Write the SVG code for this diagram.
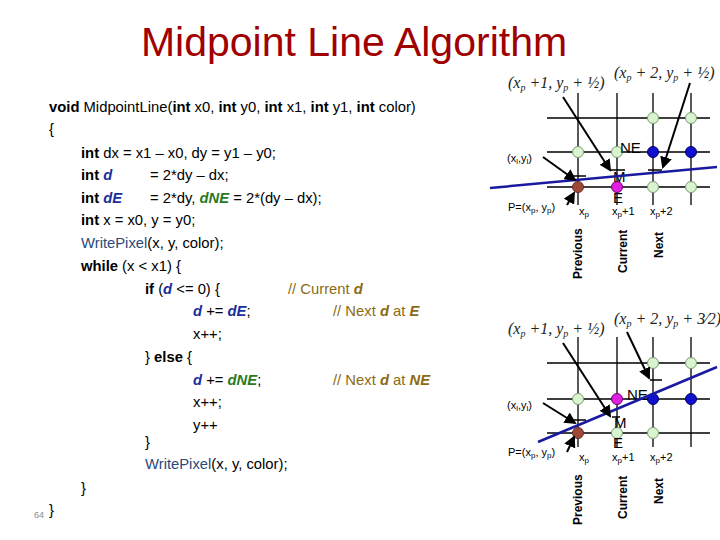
<svg xmlns="http://www.w3.org/2000/svg" width="720" height="540" viewBox="0 0 720 540">
<style>
.c{font-family:"Liberation Sans",Arial,sans-serif;font-size:14.8px;fill:#000}
.b{font-weight:bold}
.d{fill:#1a2f9c;font-weight:bold;font-style:italic}
.n{fill:#2b7a1f;font-weight:bold;font-style:italic}
.w{fill:#2a4a7a}
.cm{fill:#8c6b12}
.g{stroke:#000;stroke-width:1.3;fill:none}
.lg{fill:#d8f5d0;stroke:#7a9a70;stroke-width:1}
.bl{fill:#1010d0;stroke:#000060;stroke-width:1}
.br{fill:#a04838;stroke:#603028;stroke-width:1}
.mg{fill:#e020e0;stroke:#700070;stroke-width:1}
.ln{stroke:#1a1aa0;stroke-width:2.5}
.ar{stroke:#000;stroke-width:2;marker-end:url(#ah)}
.m{font-family:"Liberation Serif",serif;font-size:16px;fill:#222}
.s{font-family:"Liberation Sans",Arial,sans-serif;font-size:11px;fill:#000}
.L{font-family:"Liberation Sans",Arial,sans-serif;font-size:15px;fill:#000}
.v{font-family:"Liberation Sans",Arial,sans-serif;font-size:12px;font-weight:bold;fill:#000}
</style>
<defs><marker id="ah" markerWidth="6" markerHeight="6" refX="5" refY="3" orient="auto" markerUnits="strokeWidth"><path d="M0,0 L6,3 L0,6 z" fill="#000"/></marker></defs>
<text x="354" y="56" text-anchor="middle" font-family="Liberation Sans,Arial,sans-serif" font-size="41" fill="#a00000">Midpoint Line Algorithm</text>
<g id="code" class="c">
<text x="49" y="112"><tspan class="b">void</tspan> MidpointLine(<tspan class="b">int</tspan> x0, <tspan class="b">int</tspan> y0, <tspan class="b">int</tspan> x1, <tspan class="b">int</tspan> y1, <tspan class="b">int</tspan> color)</text>
<text x="49" y="134">{</text>
<text x="81" y="158"><tspan class="b">int</tspan> dx = x1 – x0,  dy = y1 – y0;</text>
<text x="81" y="180"><tspan class="b">int</tspan> <tspan class="d">d</tspan><tspan x="150">= 2*dy – dx;</tspan></text>
<text x="81" y="203"><tspan class="b">int</tspan> <tspan class="d">dE</tspan><tspan x="150">= 2*dy, </tspan><tspan class="n">dNE</tspan> = 2*(dy – dx);</text>
<text x="81" y="225"><tspan class="b">int</tspan> x = x0, y = y0;</text>
<text x="81" y="248"><tspan class="w">WritePixel</tspan>(x, y, color);</text>
<text x="81" y="271"><tspan class="b">while</tspan> (x &lt; x1) {</text>
<text x="145" y="294"><tspan class="b">if</tspan> (<tspan class="d">d</tspan> &lt;= 0) {</text>
<text x="288" y="294" class="cm">// Current <tspan class="b" font-style="italic">d</tspan></text>
<text x="193" y="316"><tspan class="d">d</tspan> += <tspan class="d">dE</tspan>;</text>
<text x="333" y="316" class="cm">// Next <tspan class="b" font-style="italic">d</tspan>  at <tspan class="b" font-style="italic">E</tspan></text>
<text x="193" y="339">x++;</text>
<text x="145" y="362">} <tspan class="b">else</tspan> {</text>
<text x="193" y="385"><tspan class="d">d</tspan> += <tspan class="n">dNE</tspan>;</text>
<text x="333" y="385" class="cm">// Next <tspan class="b" font-style="italic">d</tspan> at <tspan class="b" font-style="italic">NE</tspan></text>
<text x="193" y="407">x++;</text>
<text x="193" y="430">y++</text>
<text x="145" y="447">}</text>
<text x="145" y="469"><tspan class="w">WritePixel</tspan>(x, y, color);</text>
<text x="81" y="493">}</text>
<text x="49" y="515">}</text>
<text x="34" y="518" font-size="9" fill="#888">64</text>
</g>
<g id="grid1">
<path class="g" d="M547,118H710M547,152H710M547,187H710M578,93V205M617,93V205M653,93V205M691,93V205"/>
<circle class="lg" cx="653" cy="118" r="5.5"/><circle class="lg" cx="691" cy="118" r="5.5"/>
<circle class="lg" cx="578" cy="152" r="5.5"/><circle class="lg" cx="617" cy="152" r="5.5"/>
<circle class="bl" cx="653" cy="152" r="5.5"/><circle class="bl" cx="691" cy="152" r="5.5"/>
<circle class="br" cx="578" cy="187" r="5.5"/><circle class="mg" cx="617" cy="187" r="5.5"/>
<circle class="lg" cx="653" cy="187" r="5.5"/><circle class="lg" cx="691" cy="187" r="5.5"/>
<path class="g" d="M572,176H586M611,170H625M648,170H662"/>
<text class="L" x="620" y="153">NE</text><text class="L" x="613" y="182">M</text><text class="L" x="613" y="203">E</text>
<text class="s" x="507" y="162">(x<tspan font-size="8" dy="2">l</tspan><tspan dy="-2">,y</tspan><tspan font-size="8" dy="2">l</tspan><tspan dy="-2">)</tspan></text>
<text class="s" x="508" y="211">P=(x<tspan font-size="8" dy="2">p</tspan><tspan dy="-2">, y</tspan><tspan font-size="8" dy="2">p</tspan><tspan dy="-2">)</tspan></text>
<text class="s" x="579" y="215">x<tspan font-size="8" dy="2">p</tspan></text>
<text class="s" x="612" y="215">x<tspan font-size="8" dy="2">p</tspan><tspan dy="-2">+1</tspan></text>
<text class="s" x="650" y="215">x<tspan font-size="8" dy="2">p</tspan><tspan dy="-2">+2</tspan></text>
<text class="m" x="508" y="88" font-style="italic">(x<tspan font-size="10" dy="3">p</tspan><tspan dy="-3"> +1, y</tspan><tspan font-size="10" dy="3">p</tspan><tspan dy="-3"> + ½)</tspan></text>
<text class="m" x="614" y="78" font-style="italic">(x<tspan font-size="10" dy="3">p</tspan><tspan dy="-3"> + 2, y</tspan><tspan font-size="10" dy="3">p</tspan><tspan dy="-3"> + ½)</tspan></text>
<text class="v" transform="translate(582,279) rotate(-90)">Previous</text>
<text class="v" transform="translate(627,273) rotate(-90)">Current</text>
<text class="v" transform="translate(663,258) rotate(-90)">Next</text>
</g>
<g id="grid2">
<path class="g" d="M547,363H710M547,399H710M547,433H710M578,337V447M617,337V447M653,337V447M691,337V447"/>
<circle class="lg" cx="653" cy="363" r="5.5"/><circle class="lg" cx="691" cy="363" r="5.5"/>
<circle class="lg" cx="578" cy="399" r="5.5"/><circle class="mg" cx="617" cy="399" r="5.5"/>
<circle class="bl" cx="653" cy="399" r="5.5"/><circle class="bl" cx="691" cy="399" r="5.5"/>
<circle class="br" cx="578" cy="433" r="5.5"/><circle class="lg" cx="617" cy="433" r="5.5"/>
<circle class="lg" cx="653" cy="433" r="5.5"/>
<path class="g" d="M572,420H586M612,417H620M650,380H662"/>
<text class="L" x="627" y="400">NE</text><text class="L" x="614" y="428">M</text><text class="L" x="613" y="448">E</text>
<text class="s" x="507" y="409">(x<tspan font-size="8" dy="2">l</tspan><tspan dy="-2">,y</tspan><tspan font-size="8" dy="2">l</tspan><tspan dy="-2">)</tspan></text>
<text class="s" x="508" y="456">P=(x<tspan font-size="8" dy="2">p</tspan><tspan dy="-2">, y</tspan><tspan font-size="8" dy="2">p</tspan><tspan dy="-2">)</tspan></text>
<text class="s" x="579" y="461">x<tspan font-size="8" dy="2">p</tspan></text>
<text class="s" x="612" y="461">x<tspan font-size="8" dy="2">p</tspan><tspan dy="-2">+1</tspan></text>
<text class="s" x="650" y="461">x<tspan font-size="8" dy="2">p</tspan><tspan dy="-2">+2</tspan></text>
<text class="m" x="508" y="334" font-style="italic">(x<tspan font-size="10" dy="3">p</tspan><tspan dy="-3"> +1, y</tspan><tspan font-size="10" dy="3">p</tspan><tspan dy="-3"> + ½)</tspan></text>
<text class="m" x="614" y="324" font-style="italic">(x<tspan font-size="10" dy="3">p</tspan><tspan dy="-3"> + 2, y</tspan><tspan font-size="10" dy="3">p</tspan><tspan dy="-3"> + 3⁄2)</tspan></text>
<text class="v" transform="translate(582,525) rotate(-90)">Previous</text>
<text class="v" transform="translate(627,519) rotate(-90)">Current</text>
<text class="v" transform="translate(663,504) rotate(-90)">Next</text>
</g>
<g id="connectors">
<line class="ln" x1="490" y1="188" x2="717" y2="167"/>
<line class="ln" x1="538" y1="442" x2="717" y2="367"/>
<line class="ar" x1="563" y1="97" x2="610" y2="170"/>
<line class="ar" x1="690" y1="83" x2="663" y2="167"/>
<line class="ar" x1="543" y1="157" x2="575" y2="180"/>
<line class="ar" x1="567" y1="205" x2="574" y2="193"/>
<line class="ar" x1="563" y1="343" x2="610" y2="416"/>
<line class="ar" x1="627" y1="332" x2="649" y2="378"/>
<line class="ar" x1="543" y1="403" x2="575" y2="423"/>
<line class="ar" x1="567" y1="452" x2="574" y2="437"/>
</g>
</svg>
